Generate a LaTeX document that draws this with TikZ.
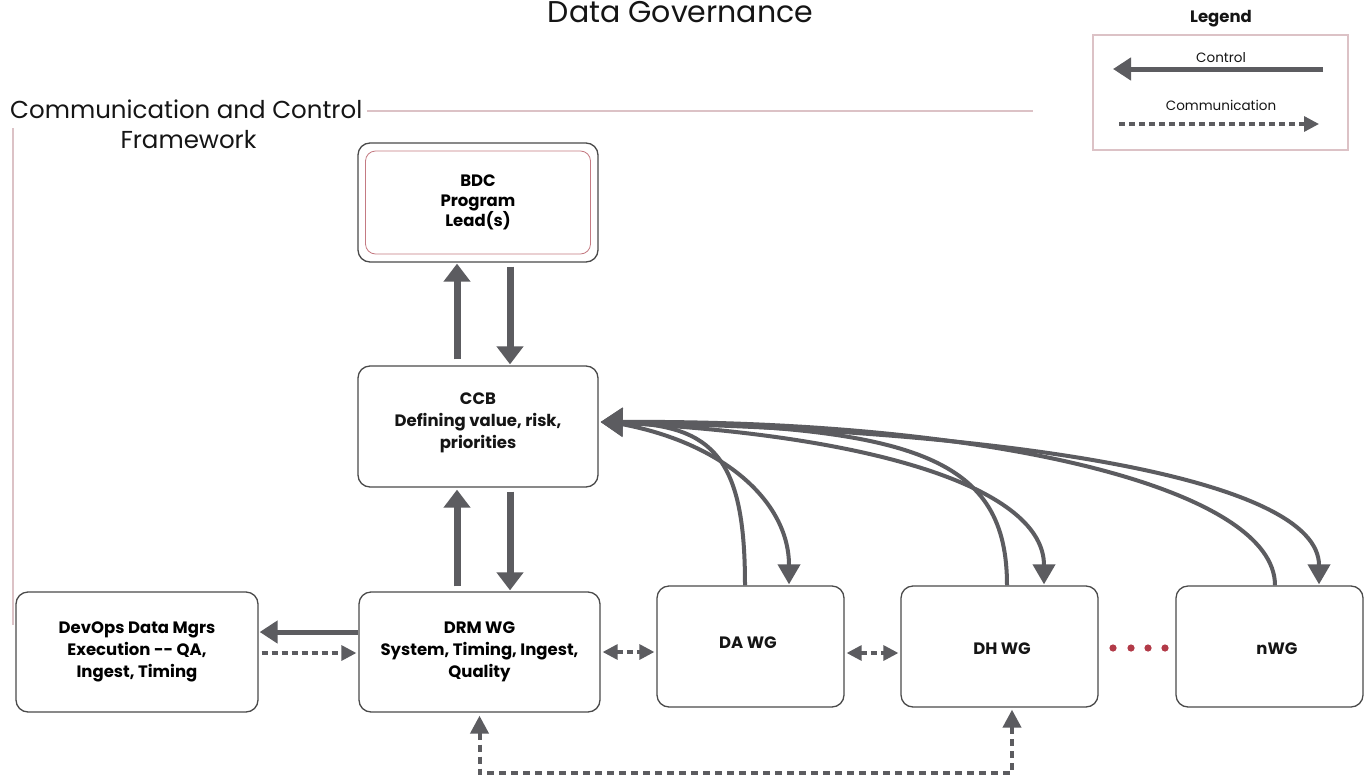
\documentclass[tikz,border=0pt]{standalone}
\usepackage{fontspec}
\setmainfont{Poppins}
\usetikzlibrary{arrows.meta}
\definecolor{ag}{HTML}{5C5C60}
\definecolor{boxc}{HTML}{4A4A4A}
\definecolor{framec}{HTML}{DCC2C6}
\definecolor{innerc}{HTML}{C47A82}
\definecolor{dotc}{HTML}{B23A48}
\definecolor{titlec}{HTML}{151515}
\tikzset{
  box/.style={draw=boxc, line width=1.3pt, rounded corners=12pt, fill=white, align=center,
    font=\bfseries\fontsize{16.5}{22}\selectfont, inner sep=0pt, text=black},
  ctrlv/.style={draw=ag, line width=7pt, -{Triangle[length=18pt,width=26pt]}},
  ctrlh/.style={draw=ag, line width=5pt, -{Triangle[length=18pt,width=22pt]}},
  ctrlc/.style={draw=ag, line width=4pt, -{Triangle[length=20pt,width=22pt]}},
  ctrlin/.style={draw=ag, line width=4pt, -{Triangle[length=22pt,width=28pt]}},
  comm/.style={draw=ag, line width=3.2pt, dash pattern=on 6pt off 4pt, -{Triangle[length=15pt,width=15pt]}},
  commb/.style={draw=ag, line width=3.2pt, dash pattern=on 6pt off 4pt, {Triangle[length=15pt,width=15pt]}-{Triangle[length=15pt,width=15pt]}},
  loopc/.style={draw=ag, line width=4pt, dash pattern=on 7pt off 5pt, {Triangle[length=18pt,width=18pt]}-{Triangle[length=18pt,width=18pt]}},
  frame/.style={draw=framec, line width=1.2pt},
  lab/.style={inner sep=0pt, text=titlec},
  boxtext/.style={lab, align=center, font=\bfseries\fontsize{16.5}{22}\selectfont},
}
\begin{document}
\begin{tikzpicture}[x=1pt,y=-1pt]
\useasboundingbox (0,0) rectangle (1364,776);
\clip (0,0) rectangle (1364,776);
\fill[white] (0,0) rectangle (1364,776);

% title
\node[lab, anchor=base, font=\fontsize{30}{36}\selectfont] (title) at (680.5,23) {Data Governance};

% legend
\node[lab, font=\bfseries\fontsize{16.5}{18}\selectfont] (legt) at (1221,19) {Legend};
\node[draw=framec, line width=1.2pt, minimum width=255pt, minimum height=115pt, inner sep=0pt] (legbox) at (1220.5,92.5) {};
\node[lab, font=\fontsize{13.5}{16}\selectfont] (lctrl) at (1221,58) {Control};
\node[lab, font=\fontsize{13.5}{16}\selectfont] (lcomm) at (1221,105) {Communication};
\coordinate (lc1) at (1323,69);
\coordinate (lc2) at (1113,69);
\coordinate (lm1) at (1119,124);
\coordinate (lm2) at (1319,124);
\draw[ctrlh] (lc1) -- (lc2);
\draw[comm] (lm1) -- (lm2);

% framework label and lines
\node[lab, anchor=base west, font=\fontsize{24.5}{28}\selectfont] (fw1) at (10,118) {Communication and Control};
\node[lab, anchor=base, font=\fontsize{24.5}{28}\selectfont] (fw2) at (188.5,148) {Framework};
\coordinate (fr1) at (367,111);
\coordinate (fr2) at (1033,111);
\coordinate (fr3) at (13,128);
\coordinate (fr4) at (13,625);
\draw[frame] (fr1) -- (fr2);
\draw[frame] (fr3) -- (fr4);

% boxes
\node[box, minimum width=240pt, minimum height=119pt] (bdc) at (478,202.5) {};
\node[draw=innerc, line width=0.8pt, rounded corners=10pt, minimum width=225pt, minimum height=103pt, inner sep=0pt,
  align=center, font=\bfseries\fontsize{16.5}{20}\selectfont] (bdcin) at (478,202.5) {BDC\\Program\\Lead(s)};
\node[box, minimum width=240pt, minimum height=121pt] (ccb) at (478,426.5) {};
\node[boxtext] (ccbt) at (478,423) {CCB\\Defining value, risk,\\priorities};
\node[box, minimum width=241pt, minimum height=120pt] (drm) at (479.5,652) {DRM WG\\System, Timing, Ingest,\\Quality};
\node[box, minimum width=242pt, minimum height=120pt] (dev) at (137,652) {DevOps Data Mgrs\\Execution {-}{-} QA,\\Ingest, Timing};
\node[box, minimum width=187pt, minimum height=121pt] (da) at (750.5,646.5) {};
\node[boxtext] (dat) at (748,643) {DA WG};
\node[box, minimum width=197pt, minimum height=121pt] (dh) at (999.5,646.5) {};
\node[boxtext] (dht) at (1002,649) {DH WG};
\node[box, minimum width=187pt, minimum height=121pt] (nwg) at (1269.5,646.5) {};
\node[boxtext] (nwgt) at (1277,649) {nWG};

% dots
\foreach \x in {1113,1131,1148,1165} \fill[dotc] (\x,648) circle (3.6pt);

% vertical control arrows
\draw[ctrlv] ([xshift=-21pt,yshift=6pt]ccb.north) -- ([xshift=-21pt,yshift=-1pt]bdc.south);
\draw[ctrlv] ([xshift=32pt,yshift=-4pt]bdc.south) -- ([xshift=32pt,yshift=1pt]ccb.north);
\draw[ctrlv] ([xshift=-22.5pt,yshift=5pt]drm.north) -- ([xshift=-21pt,yshift=-2pt]ccb.south);
\draw[ctrlv] ([xshift=32pt,yshift=-4pt]ccb.south) -- ([xshift=30.5pt,yshift=1pt]drm.north);

% DRM <-> DevOps
\draw[ctrlh] ([yshift=20pt]drm.west) -- ([xshift=1pt,yshift=20pt]dev.east);
\draw[comm] ([xshift=3pt,yshift=-1pt]dev.east) -- ([xshift=-2pt,yshift=-1pt]drm.west);

% horizontal comm
\draw[commb] ([xshift=2pt]drm.east) -- ([xshift=-2pt]da.west |- drm.east);
\draw[commb] ([xshift=2pt,yshift=-6.5pt]da.east) -- ([xshift=-2pt,yshift=-6.5pt]dh.west);

% bottom loop
\coordinate (bl) at (0,773);
\draw[loopc] ([yshift=-3pt]drm.south) -- (drm.south |- bl) -| ([xshift=12.5pt,yshift=-2pt]dh.south);

% curved arrows to/from CCB
\coordinate (ccbin) at ([yshift=4.5pt]ccb.east);
\coordinate (ccbout) at ([xshift=14pt,yshift=4pt]ccb.east);
\draw[ctrlin] ([xshift=-5.5pt]da.north) .. controls (745,460) and (715,425) .. ([xshift=2pt]ccbin);
\draw[ctrlin] ([xshift=7.5pt]dh.north) .. controls (1007,460) and (920,425) .. ([xshift=2pt]ccbin);
\draw[ctrlin] ([xshift=5.5pt]nwg.north) .. controls (1275,490) and (1000,420) .. ([xshift=2pt]ccbin);
\draw[ctrlc] (ccbout) .. controls (720,440) and (789,500) .. ([xshift=38.5pt,yshift=1pt]da.north);
\draw[ctrlc] (ccbout) .. controls (880,435) and (1044,490) .. ([xshift=44.5pt,yshift=1pt]dh.north);
\draw[ctrlc] (ccbout) .. controls (1020,430) and (1319,480) .. ([xshift=49.5pt,yshift=1pt]nwg.north);
\end{tikzpicture}
\end{document}
